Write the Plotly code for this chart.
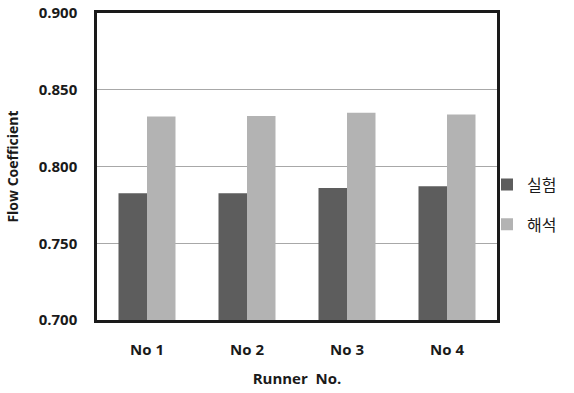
import plotly.graph_objects as go

categories = ["No 1", "No 2", "No 3", "No 4"]
experiment = [0.7825, 0.7825, 0.786, 0.7872]
analysis = [0.8325, 0.8329, 0.835, 0.8338]
series_names = ["실험", "해석"]
y_ticks = [0.700, 0.750, 0.800, 0.850, 0.900]

fig = go.Figure()
fig.add_trace(go.Bar(x=categories, y=experiment, name=series_names[0], legendgroup="a",
                     marker=dict(color="#5d5d5d", line=dict(width=0))))
fig.add_trace(go.Bar(x=categories, y=analysis, name=series_names[1], legendgroup="b",
                     marker=dict(color="#b3b3b3", line=dict(width=0))))

font_main = "Open Sans, Liberation Sans, Arial, sans-serif"
fig.update_layout(
    width=574, height=393,
    margin=dict(l=97, r=74, t=13, b=73),
    paper_bgcolor="white", plot_bgcolor="white",
    barmode="group", bargap=0.43, bargroupgap=0,
    font=dict(family=font_main, color="#1a1a1a", size=13),
    legend=dict(x=0.975, y=0.376, xanchor="left", yanchor="middle",
                font=dict(family="Noto Sans CJK KR", size=16, color="#1a1a1a"),
                itemwidth=30, tracegroupgap=16, bgcolor="rgba(0,0,0,0)"),
    xaxis=dict(
        automargin=False,
        showline=True, linecolor="#1a1a1a", linewidth=2.5, mirror=True,
        ticks="", ticklabelstandoff=14, ticklabeloverflow="allow",
        tickfont=dict(size=15, family=font_main, color="#1a1a1a", weight="bold"),
        title=dict(text="Runner  No.", font=dict(size=15, weight="bold", color="#1a1a1a"), standoff=16),
    ),
    yaxis=dict(
        automargin=False,
        range=[0.7, 0.9], tickvals=y_ticks, tickformat=".3f",
        showline=True, linecolor="#1a1a1a", linewidth=2.5, mirror=True,
        showgrid=True, gridcolor="#a8a8a8", gridwidth=1,
        ticks="", ticklen=0, zeroline=False, ticklabelstandoff=14,
        ticklabeloverflow="allow",
        tickfont=dict(size=15, family=font_main, color="#1a1a1a", weight="bold"),
        title=dict(text="Flow Coefficient", font=dict(size=14, weight="bold", color="#1a1a1a"), standoff=17),
    ),
)

fig.write_html("out.html", config={"displayModeBar": False},
               post_script="document.body.style.margin='0px';")
